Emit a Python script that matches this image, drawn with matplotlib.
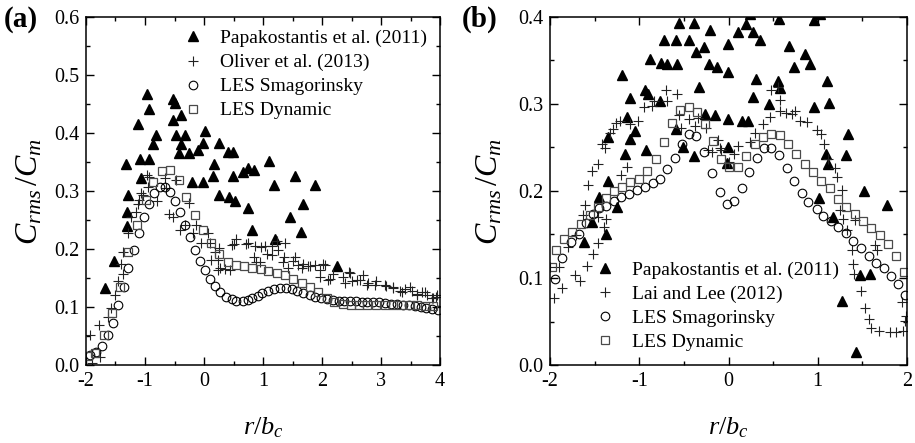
import matplotlib
matplotlib.use("Agg")
import matplotlib.pyplot as plt
from matplotlib.ticker import MultipleLocator, FormatStrFormatter

plt.rcParams['font.family'] = ['Liberation Serif', 'DejaVu Serif']
plt.rcParams['mathtext.fontset'] = 'custom'
plt.rcParams['mathtext.rm'] = 'Liberation Serif'
plt.rcParams['mathtext.it'] = 'Liberation Serif:italic'
plt.rcParams['axes.unicode_minus'] = False

# ---------------- Panel (a) data ----------------
a_pap_x = [-1.67, -1.52, -1.33, -1.31, -1.31, -1.29, -1.12, -1.08, -1.07, -0.97, -0.94, -0.94,
           -0.87, -0.81, -0.53, -0.53, -0.50, -0.47, -0.42, -0.39, -0.39, -0.33, -0.25, -0.20,
           -0.11, -0.02, 0.01, -0.01, 0.15, 0.175, 0.26, 0.26, 0.40, 0.43, 0.49, 0.49, 0.53,
           0.66, 0.74, 0.74, 0.81, 0.85, 1.11, 1.18, 1.20, 1.45, 1.55, 1.64, 1.67, 1.88, 2.26]
a_pap_y = [0.132, 0.180, 0.346, 0.264, 0.239, 0.293, 0.415, 0.355, 0.322, 0.467, 0.441, 0.355,
           0.381, 0.397, 0.458, 0.422, 0.451, 0.397, 0.366, 0.431, 0.381, 0.397, 0.366, 0.316,
           0.371, 0.383, 0.403, 0.316, 0.326, 0.346, 0.382, 0.293, 0.368, 0.290, 0.368, 0.326, 0.283,
           0.333, 0.339, 0.270, 0.233, 0.337, 0.352, 0.311, 0.218, 0.256, 0.326, 0.230, 0.277, 0.311, 0.171]

a_oli_x = [-1.90, -1.77, -1.93, -1.78, -1.62, -1.57, -1.51, -1.46, -1.37, -1.40, -1.37, -1.28,
           -1.23, -1.16, -1.12, -1.10, -1.06, -1.03, -0.97, -0.95, -0.93, -0.80, -0.66, -0.64,
           -0.47, -0.60, -0.52, -0.41, -0.33, -0.25, -0.19, -0.14, -0.05, 0.07, 0.10, 0.18, 0.26,
           0.12, 0.24, 0.27, 0.23, 0.36, 0.44, 0.47, 0.51, 0.55, 0.71, 0.75, 0.87, 0.97, 1.03,
           0.88, 0.95, 1.06, 1.15, 1.15, 1.23, 1.37, 0.85, 1.26, 1.34, 1.35, 1.43, 1.51, 1.54,
           1.60, 1.66, 1.68, 1.77, 1.80, 1.88, 1.97, 2.02, 2.05, 1.97, 2.11, 2.14, 2.19, 2.36,
           2.39, 2.45, 2.47, 2.50, 2.59, 2.64, 2.70, 2.76, 2.78, 2.90, 2.92, 3.07, 3.09, 3.21,
           3.21, 3.32, 3.35, 3.40, 3.49, 3.52, 3.61, 3.61, 3.69, 3.75, 3.78, 3.86, 3.88, 3.94, 3.95]
a_oli_y = [0.004, 0.013, 0.052, 0.069, 0.082, 0.099, 0.121, 0.145, 0.157, 0.174, 0.194, 0.227,
           0.256, 0.264, 0.278, 0.285, 0.296, 0.293, 0.328, 0.307, 0.324, 0.283, 0.322, 0.306,
           0.319, 0.260, 0.256, 0.233, 0.241, 0.279, 0.228, 0.241, 0.210, 0.227, 0.210, 0.195, 0.201,
           0.181, 0.181, 0.167, 0.164, 0.165, 0.164, 0.207, 0.209, 0.218, 0.209, 0.210, 0.205, 0.204, 0.205,
           0.178, 0.178, 0.191, 0.190, 0.205, 0.213, 0.210, 0.187, 0.199, 0.178, 0.187, 0.167, 0.180, 0.187,
           0.173, 0.167, 0.175, 0.170, 0.171, 0.173, 0.164, 0.175, 0.173, 0.152, 0.146, 0.149, 0.157, 0.152,
           0.141, 0.160, 0.158, 0.144, 0.146, 0.146, 0.155, 0.138, 0.141, 0.138, 0.144, 0.138, 0.137, 0.133,
           0.135, 0.128, 0.126, 0.131, 0.135, 0.128, 0.120, 0.123, 0.126, 0.126, 0.120, 0.115, 0.115, 0.118, 0.121]

a_smag_x = [-1.94, -1.83, -1.73, -1.63, -1.54, -1.45, -1.35, -1.28, -1.18, -1.11, -1.01, -0.93,
            -0.84, -0.75, -0.66, -0.58, -0.50, -0.41, -0.33, -0.24, -0.16, -0.07, 0.01, 0.10,
            0.19, 0.27, 0.37, 0.47, 0.55, 0.66, 0.74, 0.82, 0.91, 0.99, 1.09, 1.19, 1.29, 1.39,
            1.49, 1.58, 1.68, 1.79, 1.88, 1.98, 2.08, 2.18, 2.28, 2.37, 2.47, 2.57, 2.67, 2.77,
            2.87, 2.97, 3.07, 3.17, 3.27, 3.37, 3.47, 3.57, 3.67, 3.77, 3.87, 3.97]
a_smag_y = [0.017, 0.023, 0.032, 0.052, 0.072, 0.103, 0.135, 0.167, 0.198, 0.228, 0.256, 0.278,
            0.297, 0.307, 0.307, 0.299, 0.282, 0.263, 0.241, 0.220, 0.198, 0.180, 0.163, 0.149,
            0.136, 0.126, 0.118, 0.113, 0.111, 0.111, 0.112, 0.115, 0.119, 0.124, 0.128, 0.131, 0.132, 0.132,
            0.131, 0.128, 0.125, 0.120, 0.118, 0.116, 0.113, 0.112, 0.111, 0.110, 0.110, 0.110, 0.109, 0.109,
            0.108, 0.108, 0.107, 0.106, 0.105, 0.104, 0.103, 0.102, 0.100, 0.099, 0.097, 0.095]

a_dyn_x = [-1.97, -1.84, -1.69, -1.56, -1.42, -1.28, -1.14, -0.99, -0.86, -0.71, -0.58, -0.43,
           -0.31, -0.16, -0.02, 0.12, 0.26, 0.40, 0.54, 0.68, 0.82, 0.96, 1.09, 1.23, 1.37, 1.50,
           1.66, 1.80, 1.94, 2.08, 2.20, 2.35, 2.49, 2.63, 2.77, 2.92, 3.06, 3.20, 3.34, 3.49,
           3.61, 3.75, 3.88]
a_dyn_y = [0.016, 0.020, 0.052, 0.090, 0.135, 0.194, 0.241, 0.284, 0.316, 0.335, 0.336, 0.319,
           0.290, 0.259, 0.233, 0.210, 0.191, 0.178, 0.172, 0.170, 0.167, 0.165, 0.162, 0.159, 0.155, 0.149,
           0.142, 0.135, 0.126, 0.116, 0.109, 0.105, 0.104, 0.104, 0.104, 0.104, 0.104, 0.104, 0.104, 0.104,
           0.103, 0.102, 0.101]

# ---------------- Panel (b) data ----------------
b_pap_x = [-1.62, -1.53, -1.45, -1.37, -1.35, -1.35, -1.25, -1.19, -1.16, -1.14, -1.10, -1.10,
           -1.05, -0.94, -0.92, -0.90, -0.88, -0.77, -0.76, -0.72, -0.69, -0.59, -0.59, -0.58,
           -0.56, -0.51, -0.44, -0.39, -0.39, -0.36, -0.33, -0.28, -0.26, -0.22, -0.21, -0.15,
           -0.13, -0.01, -0.01, -0.01, -0.01, -0.02, 0.11, 0.15, 0.20, 0.22, 0.24, 0.28, 0.28, 0.31,
           0.35, 0.45, 0.56, 0.57, 0.58, 0.68, 0.73, 0.86, 0.91, 0.96, 0.96, 1.01, 1.03, 1.09,
           1.10, 1.12, 1.13, 1.17, 1.27, 1.32, 1.34, 1.43, 1.47, 1.52, 1.58, 1.78]
b_pap_y = [0.141, 0.164, 0.193, 0.151, 0.212, 0.262, 0.182, 0.333, 0.243, 0.285, 0.307, 0.260,
           0.269, 0.316, 0.247, 0.311, 0.352, 0.304, 0.347, 0.374, 0.346, 0.373, 0.271, 0.346,
           0.393, 0.251, 0.374, 0.393, 0.240, 0.360, 0.320, 0.366, 0.288, 0.346, 0.385, 0.287,
           0.343, 0.369, 0.337, 0.283, 0.251, 0.232, 0.383, 0.281, 0.392, 0.281, 0.404, 0.383, 0.308, 0.329,
           0.374, 0.300, 0.327, 0.398, 0.318, 0.367, 0.342, 0.358, 0.346, 0.397, 0.297, 0.192, 0.404, 0.243,
           0.327, 0.231, 0.301, 0.170, 0.074, 0.241, 0.266, 0.015, 0.103, 0.200, 0.105, 0.184]

b_lai_x = [-2.00, -1.96, -1.90, -1.86, -1.80, -1.72, -1.71, -1.66, -1.63, -1.61, -1.58, -1.57,
           -1.53, -1.52, -1.46, -1.46, -1.46, -1.42, -1.40, -1.38, -1.37, -1.33, -1.29, -1.26,
           -1.22, -1.21, -1.14, -1.10, -1.01, -0.95, -0.86, -0.84, -0.70, -0.69, -0.58, -0.55,
           -0.53, -0.44, -0.38, -0.34, -0.25, -0.23, -0.19, -0.12, -0.10, -0.08, 0.00, 0.06, 0.11,
           0.24, 0.30, 0.39, 0.47, 0.48, 0.55, 0.58, 0.58, 0.64, 0.71, 0.75, 0.80, 0.88, 0.99,
           1.04, 1.07, 1.12, 1.19, 1.22, 1.27, 1.25, 1.28, 1.33, 1.38, 1.40, 1.41, 1.42, 1.49,
           1.53, 1.57, 1.60, 1.64, 1.66, 1.69, 1.81, 1.88, 1.95, 1.98, 1.94, 1.99]
b_lai_y = [0.113, 0.077, 0.113, 0.089, 0.136, 0.103, 0.150, 0.097, 0.172, 0.184, 0.114, 0.207,
           0.223, 0.128, 0.231, 0.140, 0.170, 0.254, 0.159, 0.250, 0.168, 0.267, 0.271, 0.278,
           0.280, 0.218, 0.228, 0.277, 0.280, 0.297, 0.298, 0.304, 0.316, 0.304, 0.311, 0.287,
           0.272, 0.283, 0.275, 0.284, 0.272, 0.247, 0.245, 0.259, 0.249, 0.247, 0.233, 0.243, 0.252,
           0.256, 0.267, 0.277, 0.285, 0.316, 0.319, 0.305, 0.292, 0.290, 0.288, 0.292, 0.280, 0.279, 0.270,
           0.265, 0.254, 0.237, 0.226, 0.216, 0.201, 0.178, 0.168, 0.155, 0.132, 0.116, 0.105, 0.167, 0.085,
           0.066, 0.053, 0.042, 0.138, 0.132, 0.039, 0.038, 0.038, 0.039, 0.051, 0.072, 0.056]

b_smag_x = [-1.94, -1.86, -1.77, -1.68, -1.60, -1.52, -1.45, -1.37, -1.28, -1.20, -1.11, -1.03,
            -0.94, -0.85, -0.77, -0.69, -0.60, -0.52, -0.44, -0.36, -0.28, -0.19, -0.10, -0.02,
            0.06, 0.15, 0.23, 0.32, 0.40, 0.48, 0.57, 0.65, 0.73, 0.82, 0.89, 0.99, 1.06, 1.15,
            1.23, 1.32, 1.40, 1.49, 1.57, 1.65, 1.74, 1.82, 1.90, 1.98]
b_smag_y = [0.099, 0.123, 0.141, 0.151, 0.163, 0.173, 0.180, 0.183, 0.188, 0.193, 0.197, 0.201,
            0.205, 0.209, 0.214, 0.225, 0.238, 0.254, 0.266, 0.263, 0.245, 0.221, 0.199, 0.185,
            0.188, 0.203, 0.222, 0.238, 0.249, 0.249, 0.241, 0.226, 0.211, 0.198, 0.187, 0.179, 0.171, 0.166,
            0.159, 0.152, 0.143, 0.134, 0.125, 0.117, 0.111, 0.102, 0.093, 0.081]

b_dyn_x = [-1.98, -1.93, -1.84, -1.75, -1.65, -1.55, -1.46, -1.37, -1.28, -1.19, -1.10, -1.00,
           -0.91, -0.81, -0.72, -0.63, -0.54, -0.44, -0.35, -0.26, -0.17, -0.08, 0.01, 0.11,
           0.20, 0.30, 0.39, 0.48, 0.58, 0.67, 0.76, 0.86, 0.95, 1.04, 1.14, 1.23, 1.32, 1.42,
           1.51, 1.60, 1.70, 1.79, 1.88, 1.97]
b_dyn_y = [0.113, 0.132, 0.145, 0.153, 0.162, 0.172, 0.182, 0.192, 0.200, 0.205, 0.210, 0.214,
           0.223, 0.237, 0.256, 0.278, 0.293, 0.297, 0.291, 0.277, 0.257, 0.237, 0.228, 0.228,
           0.240, 0.254, 0.262, 0.266, 0.264, 0.254, 0.242, 0.231, 0.222, 0.212, 0.203, 0.191, 0.182, 0.174,
           0.166, 0.158, 0.149, 0.139, 0.125, 0.107]

labels_a = ["Papakostantis et al. (2011)", "Oliver et al. (2013)", "LES Smagorinsky", "LES Dynamic"]
labels_b = ["Papakostantis et al. (2011)", "Lai and Lee (2012)", "LES Smagorinsky", "LES Dynamic"]

fig = plt.figure(figsize=(9.15, 4.43), dpi=100)
ax_a = fig.add_axes([86/915, 1-365/443, 354/915, 348/443])
ax_b = fig.add_axes([550/915, 1-365/443, 357/915, 348/443])

def draw(ax, pap, exp, smag, dyn, labels):
    h1, = ax.plot(pap[0], pap[1], ls='none', marker='^', ms=7.5, color='black', label=labels[0])
    h2, = ax.plot(exp[0], exp[1], ls='none', marker='+', ms=7, mew=0.8, color='#222222', label=labels[1])
    h3, = ax.plot(smag[0], smag[1], ls='none', marker='o', ms=6.2, mfc='none', mec='black', mew=0.8, label=labels[2])
    h4, = ax.plot(dyn[0], dyn[1], ls='none', marker='s', ms=5.8, mfc='none', mec='#4a4a4a', mew=0.9, label=labels[3])
    return [h1, h2, h3, h4]

ha = draw(ax_a, (a_pap_x, a_pap_y), (a_oli_x, a_oli_y), (a_smag_x, a_smag_y), (a_dyn_x, a_dyn_y), labels_a)
hb = draw(ax_b, (b_pap_x, b_pap_y), (b_lai_x, b_lai_y), (b_smag_x, b_smag_y), (b_dyn_x, b_dyn_y), labels_b)

ax_a.set_xlim(-2, 4)
ax_a.set_ylim(0, 0.6)
ax_b.set_xlim(-2, 2)
ax_b.set_ylim(0, 0.4)

for ax in (ax_a, ax_b):
    ax.xaxis.set_major_locator(MultipleLocator(1))
    ax.xaxis.set_minor_locator(MultipleLocator(0.5))
    ax.yaxis.set_major_locator(MultipleLocator(0.1))
    ax.yaxis.set_minor_locator(MultipleLocator(0.05))
    ax.yaxis.set_major_formatter(FormatStrFormatter('%.1f'))
    ax.xaxis.set_major_formatter(FormatStrFormatter('%d'))
    ax.tick_params(which='both', direction='in', top=True, right=True, labelsize=14.5, width=1.0)
    ax.tick_params(which='major', length=6, pad=5)
    ax.tick_params(which='minor', length=3)
    for s in ax.spines.values():
        s.set_linewidth(1.1)
    ax.set_xlabel(r'$r/b_c$', fontsize=19)
    ax.set_ylabel(r'$C_{rms}\,/C_m$', fontsize=23)
    ax.xaxis.set_label_coords(0.5, -0.145)

ax_a.yaxis.set_label_coords(-0.118, 0.5)
ax_b.yaxis.set_label_coords(-0.128, 0.5)

ax_a.legend(handles=ha, loc='upper right', bbox_to_anchor=(1.0, 1.0), frameon=False, fontsize=14,
            handlelength=1.2, handletextpad=0.8, labelspacing=0.33, borderaxespad=0.45, borderpad=0.2)
ax_b.legend(handles=hb, loc='lower left', bbox_to_anchor=(0.11, 0.03), frameon=False, fontsize=14,
            handlelength=1.2, handletextpad=0.8, labelspacing=0.33, borderaxespad=0.0, borderpad=0.2)

fig.text(4/915, 1-6/443, '(a)', fontsize=21, fontweight='bold', va='top', ha='left')
fig.text(462/915, 1-6/443, '(b)', fontsize=21, fontweight='bold', va='top', ha='left')

fig.savefig('out.png', dpi=100)
